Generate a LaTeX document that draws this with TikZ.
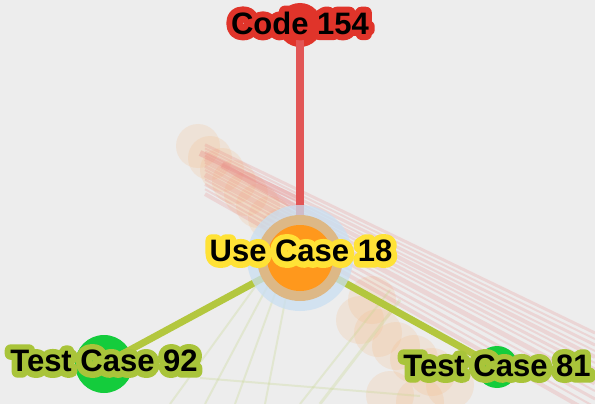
\documentclass[tikz,border=0pt]{standalone}
\usepackage{fontspec}
\setmainfont{Liberation Sans}
\usetikzlibrary{calc}
\definecolor{bg}{HTML}{EDEDED}
\definecolor{codered}{HTML}{E0342A}
\definecolor{edgered}{HTML}{E25656}
\definecolor{ucyellow}{HTML}{FFE236}
\definecolor{ucorange}{HTML}{FF981C}
\definecolor{uctan}{HTML}{DDB886}
\definecolor{uchalo}{HTML}{C9DFF2}
\definecolor{tcgreen}{HTML}{14CC3C}
\definecolor{tcoutline}{HTML}{A9C43A}
\definecolor{edgegreen}{HTML}{B3C73E}
\definecolor{ghostorange}{HTML}{F5B880}
\definecolor{ghostred}{HTML}{E88080}
\definecolor{ghostgreen}{HTML}{C8D890}
\newsavebox\oltbox
\newcommand\olt[2]{%
  \sbox\oltbox{#2}%
  \rlap{\color{#1}\special{pdf:literal direct 1 j 1 J 12 w 2 Tr}#2\special{pdf:literal direct 0 Tr}}%
  {\color{black}\usebox\oltbox}}
\tikzset{
  lbl/.style={inner sep=0pt, font=\fontsize{31}{31}\selectfont\bfseries},
  dot/.style={circle, inner sep=0pt, minimum size=#1},
  ghostcirc/.style={fill=ghostorange, fill opacity=0.2, draw=none},
  ghostline/.style={draw=ghostred, opacity=0.22, line width=#1},
  ghostg/.style={draw=ghostgreen, opacity=0.3, line width=#1},
}
\begin{document}
\begin{tikzpicture}[x=1pt,y=-1pt]
\fill[bg] (0,0) rectangle (595,404);
\useasboundingbox (0,0) rectangle (595,404);
% ghost elements
\foreach \x/\y in {198/146,210/158,222/170,234/182,246/194,258/206,270/218,282/230}
  \fill[ghostcirc] (\x,\y) circle (22);
\foreach \x/\y in {360/320,378/333,396/346,414/359,432/372,450/385,390/395,420/402,372/300}
  \fill[ghostcirc] (\x,\y) circle (24);
\foreach \d/\w in {0/3,6/2,12/4,18/2,24/3,30/2,38/5,46/2,54/3,62/2,70/4,-6/2,-12/3}
  \draw[ghostline=\w] (205,{152+\d*0.6}) -- (595,{345+\d});
\draw[ghostline=6, opacity=0.3] (200,153) -- (300,200);
\draw[ghostline=6, opacity=0.3] (222,165) -- (300,210);
\foreach \a/\b in {170/404,205/404,235/404,265/404}
  \draw[ghostg=2] (300,225) -- (\a,\b);
\draw[ghostg=2] (390,290) -- (300,404);
\draw[ghostg=2] (200,378) -- (420,396);
\draw[ghostg=3] (400,300) -- (320,404);
% main edges
\coordinate (uc) at (300,258);
\node[dot=44pt, fill=codered] (codec) at (300,25) {};
\node[dot=58pt, fill=tcgreen] (tc92c) at (104,364) {};
\node[dot=42pt, fill=tcgreen] (tc81c) at (497,367) {};
\draw[edgered, line width=8pt] (codec.center) -- (uc);
\draw[edgegreen, line width=7pt] (uc) -- (tc92c.center);
\draw[edgegreen, line width=7pt] (uc) -- (tc81c.center);
\node[dot=106pt, fill=uchalo, fill opacity=0.75] (uchalo) at (uc) {};
\node[dot=86pt, fill=uctan] (ucring) at (uc) {};
\node[dot=66pt, fill=ucorange] (ucc) at (uc) {};
% labels
\node[lbl] (code) at (300,23) {\olt{codered}{Code 154}};
\node[lbl] (usecase) at (301,251) {\olt{ucyellow}{Use Case 18}};
\node[lbl] (tc92) at (104,361) {\olt{tcoutline}{Test Case 92}};
\node[lbl] (tc81) at (497,366) {\olt{tcoutline}{Test Case 81}};
\end{tikzpicture}
\end{document}
